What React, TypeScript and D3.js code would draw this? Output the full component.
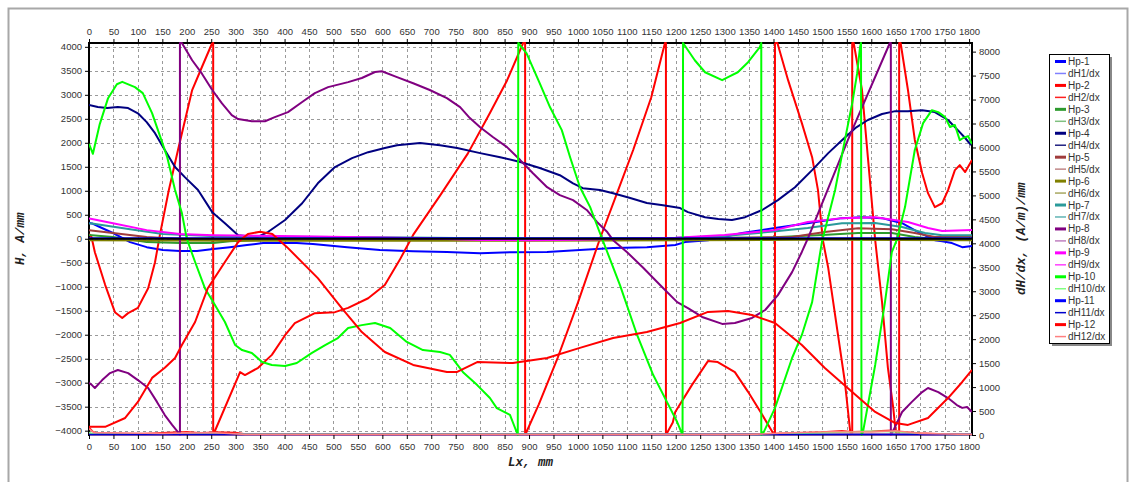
import React, { useRef, useEffect } from "react";
import * as d3 from "d3";

type Pt = [number, number];

// x positions in mm, H in A/mm (left axis), dH/dx in (A/m)/mm (right axis)
const hp1: Pt[] = [[0,330],[6,320],[22,245],[49,120],[84,-70],[118,-175],[151,-235],[186,-255],[221,-255],[254,-215],[288,-175],[323,-130],[356,-90],[391,-90],[425,-90],[458,-110],[528,-175],[595,-235],[663,-260],[732,-275],[800,-300],[867,-280],[937,-275],[1004,-235],[1072,-195],[1141,-175],[1199,-130],[1219,-70],[1266,-30],[1336,120],[1403,225],[1470,325],[1540,430],[1581,450],[1622,430],[1663,325],[1696,140],[1730,-30],[1745,-50],[1765,-90],[1786,-175],[1806,-150]];
const hp2: Pt[] = [[0,100],[5,40],[12,-280],[33,-960],[53,-1530],[68,-1650],[80,-1550],[100,-1440],[121,-1030],[135,-490],[145,80],[163,1000],[182,1850],[211,3100],[231,3580],[252,4080],[254,4080],[254,-4090],[309,-2780],[319,-2840],[346,-2690],[374,-2420],[401,-2010],[421,-1760],[462,-1550],[503,-1530],[530,-1440],[571,-1240],[605,-965],[635,-450],[663,80],[720,930],[775,1780],[820,2620],[855,3300],[888,4080],[892,4080],[892,-4090],[920,-3450],[959,-2470],[1000,-1330],[1045,0],[1080,950],[1113,1850],[1150,2950],[1178,4080],[1180,4080],[1180,-4090],[1194,-3830],[1199,-3610],[1233,-3050],[1266,-2550],[1286,-2570],[1321,-2780],[1348,-3190],[1377,-3670],[1399,-4050],[1403,-4090],[1403,4080],[1408,4080],[1430,3300],[1458,2410],[1479,1700],[1491,1015],[1501,-30],[1512,-610],[1532,-2010],[1546,-2985],[1557,-4030],[1561,-4090],[1561,4080],[1564,4080],[1581,3100],[1593,1700],[1608,-30],[1622,-1320],[1634,-2690],[1645,-3530],[1650,-4030],[1657,-4090],[1657,4080],[1660,4080],[1675,3100],[1689,2060],[1704,1370],[1716,950],[1730,660],[1745,740],[1757,1015],[1771,1430],[1781,1535],[1792,1390],[1806,1640]];
const hp3: Pt[] = [[0,80],[49,35],[118,-70],[186,-90],[254,-90],[288,-50],[350,-20],[500,-10],[800,0],[1200,10],[1400,30],[1500,80],[1573,120],[1642,120],[1689,35],[1730,-5],[1806,0]];
const hp4: Pt[] = [[0,2790],[18,2745],[37,2725],[59,2745],[80,2725],[100,2615],[118,2430],[135,2200],[155,1850],[176,1495],[196,1285],[223,1015],[252,555],[278,325],[305,75],[325,50],[345,40],[366,140],[401,390],[436,740],[468,1155],[503,1495],[538,1680],[571,1805],[605,1890],[630,1950],[677,1995],[718,1950],[753,1890],[800,1785],[841,1700],[882,1600],[922,1475],[963,1325],[990,1155],[1010,1055],[1045,1015],[1072,950],[1107,850],[1141,745],[1174,700],[1209,640],[1225,555],[1260,450],[1287,410],[1315,390],[1342,450],[1377,600],[1409,805],[1444,1075],[1479,1430],[1512,1785],[1540,2055],[1567,2305],[1593,2475],[1622,2600],[1649,2660],[1675,2660],[1704,2680],[1730,2640],[1757,2475],[1777,2265],[1792,2100],[1804,1950]];
const hp5: Pt[] = [[0,180],[49,120],[118,35],[186,-5],[254,-25],[400,-20],[600,-10],[800,0],[1000,0],[1200,10],[1350,20],[1438,35],[1505,140],[1573,220],[1642,200],[1689,120],[1730,35],[1806,55]];
const hp6: Pt[] = [[0,-30],[300,-40],[900,-40],[1500,-20],[1806,-30]];
const hp7: Pt[] = [[0,320],[6,320],[84,200],[151,100],[250,60],[400,40],[600,30],[800,10],[1000,0],[1200,20],[1300,60],[1400,150],[1470,225],[1540,325],[1608,330],[1663,245],[1710,120],[1745,75],[1806,75]];
const hp8: Pt[] = [[0,-3000],[6,-3050],[12,-3110],[27,-2945],[43,-2800],[59,-2735],[80,-2800],[100,-2945],[121,-3110],[139,-3400],[155,-3675],[170,-3880],[182,-4030],[186,-4090],[186,4080],[190,4080],[211,3720],[231,3440],[252,3100],[272,2820],[292,2575],[305,2495],[333,2450],[360,2450],[380,2535],[407,2640],[436,2850],[462,3035],[489,3160],[530,3265],[558,3350],[585,3475],[599,3490],[630,3370],[663,3240],[697,3100],[732,2930],[759,2745],[779,2515],[800,2325],[826,2120],[855,1910],[882,1640],[908,1365],[937,1075],[963,910],[990,805],[1018,600],[1039,350],[1060,140],[1072,-30],[1100,-275],[1134,-610],[1168,-965],[1203,-1320],[1225,-1445],[1254,-1630],[1295,-1775],[1321,-1755],[1356,-1650],[1383,-1485],[1409,-1175],[1438,-695],[1458,-275],[1470,0],[1552,2055],[1638,4080],[1640,4080],[1640,-4090],[1645,-4000],[1663,-3610],[1683,-3400],[1704,-3195],[1716,-3110],[1737,-3195],[1757,-3320],[1775,-3465],[1786,-3525],[1796,-3505],[1806,-3610]];
const hp9: Pt[] = [[0,420],[6,410],[49,325],[118,180],[186,100],[254,75],[391,55],[528,35],[663,15],[800,-25],[900,-30],[1000,-20],[1100,0],[1200,20],[1300,80],[1403,180],[1470,350],[1540,430],[1608,450],[1675,350],[1716,225],[1745,160],[1806,180]];
const hp10: Pt[] = [[0,1980],[8,1770],[22,2390],[39,2930],[57,3220],[68,3270],[94,3160],[110,3035],[129,2620],[141,2265],[160,1700],[176,1015],[190,535],[200,0],[217,-485],[237,-1030],[254,-1320],[278,-1735],[299,-2215],[313,-2320],[333,-2380],[354,-2570],[374,-2630],[401,-2650],[425,-2590],[456,-2380],[483,-2215],[509,-2070],[530,-1860],[558,-1800],[585,-1755],[616,-1860],[650,-2150],[683,-2320],[718,-2360],[738,-2420],[765,-2780],[794,-3050],[820,-3320],[834,-3530],[861,-3670],[877,-4090],[878,4080],[895,3865],[922,3240],[943,2740],[967,2265],[984,1700],[1004,1080],[1025,660],[1045,120],[1086,-965],[1121,-2005],[1154,-2840],[1182,-3400],[1203,-3820],[1214,-4090],[1215,4080],[1239,3720],[1260,3470],[1295,3305],[1307,3370],[1327,3470],[1348,3680],[1372,3995],[1375,4080],[1375,-4090],[1379,-4050],[1403,-3530],[1438,-2485],[1458,-2005],[1479,-1320],[1499,-70],[1526,1015],[1546,2055],[1561,2825],[1571,3440],[1577,3995],[1579,4080],[1580,-4090],[1583,-4030],[1608,-2630],[1628,-1320],[1642,-280],[1653,0],[1669,660],[1689,1850],[1706,2410],[1724,2680],[1737,2640],[1751,2535],[1761,2330],[1771,2370],[1781,2055],[1788,2100],[1798,2140],[1806,1975]];
const hp11: Pt[] = [[0,10],[1806,10]];
const hp12: Pt[] = [[0,-3920],[33,-3920],[74,-3735],[100,-3400],[129,-2900],[155,-2690],[176,-2485],[190,-2215],[217,-1735],[243,-1030],[278,-485],[305,-70],[325,100],[350,145],[375,100],[405,-175],[468,-820],[517,-1445],[558,-1945],[605,-2360],[663,-2630],[732,-2775],[753,-2775],[794,-2570],[867,-2590],[937,-2485],[1004,-2275],[1072,-2070],[1141,-1945],[1209,-1755],[1266,-1525],[1307,-1505],[1356,-1590],[1403,-1755],[1458,-2215],[1505,-2695],[1561,-3195],[1608,-3610],[1649,-3840],[1675,-3880],[1716,-3735],[1757,-3320],[1786,-2985],[1806,-2735]];

const dhZero: Pt[] = [[0,0],[1806,0]];
const dh2: Pt[] = [[0,150],[8,60],[20,20],[100,10],[160,40],[200,60],[230,30],[260,50],[300,40],[320,10],[400,0],[1300,0],[1400,20],[1450,30],[1500,50],[1540,80],[1560,60],[1600,70],[1640,90],[1660,60],[1700,30],[1750,10],[1806,0]];
const dh10: Pt[] = [[0,40],[10,10],[1400,0],[1450,20],[1520,40],[1600,70],[1660,50],[1700,20],[1750,0],[1806,0]];
const dh12: Pt[] = [[0,120],[10,40],[150,20],[250,40],[320,0],[1350,0],[1450,40],[1520,60],[1600,50],[1650,80],[1700,20],[1806,0]];

const seriesNames = ["Hp-1","dH1/dx","Hp-2","dH2/dx","Hp-3","dH3/dx","Hp-4","dH4/dx","Hp-5","dH5/dx","Hp-6","dH6/dx","Hp-7","dH7/dx","Hp-8","dH8/dx","Hp-9","dH9/dx","Hp-10","dH10/dx","Hp-11","dH11/dx","Hp-12","dH12/dx"];
const seriesColors = ["#0000ff","#8080ff","#ff0000","#ff2020","#2e9a2e","#80c080","#000080","#202080","#a03c3c","#c08888","#808000","#a8a860","#2a9a9a","#60b4b4","#800080","#c080c0","#ff00ff","#ff40ff","#00ff00","#80ff80","#0000ff","#0000cc","#ff0000","#ff8080"];
const seriesData = [hp1,dhZero,hp2,dh2,hp3,dhZero,hp4,dhZero,hp5,dhZero,hp6,dhZero,hp7,dhZero,hp8,dhZero,hp9,dhZero,hp10,dh10,hp11,dhZero,hp12,dh12];

const xTicks = d3.range(0, 1801, 50);
const leftTicks = d3.range(-4000, 4001, 500);
const rightTicks = d3.range(0, 8001, 500);

const W = 1135;
const H = 482;
const margin = { left: 89, top: 43, right: 972, bottom: 435 };

const App: React.FC = () => {
  const svgRef = useRef<SVGSVGElement>(null);

  useEffect(() => {
    if (!svgRef.current) return;
    const svg = d3.select(svgRef.current);
    svg.selectAll("*").remove();

    const x = d3.scaleLinear().domain([0, 1806]).range([margin.left, margin.right]);
    const yL = d3.scaleLinear().domain([-4090, 4080]).range([margin.bottom, margin.top]);
    const yR = d3.scaleLinear().domain([0, 8180]).range([margin.bottom, margin.top]);

    // outer panel
    svg.append("rect").attr("x", 8.5).attr("y", 8.5).attr("width", 1119).attr("height", 490)
      .attr("fill", "#fff").attr("stroke", "#a8a8a8").attr("stroke-width", 2);

    svg.append("defs").append("clipPath").attr("id", "plotClip")
      .append("rect").attr("x", margin.left).attr("y", margin.top - 1)
      .attr("width", margin.right - margin.left).attr("height", margin.bottom - margin.top + 2);

    // grid
    const grid = svg.append("g").attr("stroke", "#9a9a9a").attr("stroke-dasharray", "3,3").attr("stroke-width", 1);
    xTicks.filter((t) => t > 0).forEach((t) => {
      grid.append("line").attr("x1", Math.round(x(t)) + 0.5).attr("x2", Math.round(x(t)) + 0.5)
        .attr("y1", margin.top).attr("y2", margin.bottom);
    });
    leftTicks.forEach((t) => {
      grid.append("line").attr("x1", margin.left).attr("x2", margin.right)
        .attr("y1", Math.round(yL(t)) + 0.5).attr("y2", Math.round(yL(t)) + 0.5);
    });

    // border under the series, like the original
    svg.append("rect").attr("x", margin.left).attr("y", margin.top)
      .attr("width", margin.right - margin.left).attr("height", margin.bottom - margin.top)
      .attr("fill", "none").attr("stroke", "#000").attr("stroke-width", 2);

    // series
    const plot = svg.append("g").attr("clip-path", "url(#plotClip)");
    seriesNames.forEach((name, i) => {
      const isDH = name.startsWith("dH");
      const ys = isDH ? yR : yL;
      const line = d3.line<Pt>().x((d) => x(d[0])).y((d) => ys(d[1]) - (isDH ? 0.5 : 0));
      plot.append("path").datum(seriesData[i]).attr("d", line)
        .attr("fill", "none").attr("stroke", seriesColors[i])
        .attr("stroke-width", isDH ? 1.5 : 2).attr("stroke-linejoin", "round");
    });
    plot.append("line").attr("x1", margin.left).attr("x2", margin.right)
      .attr("y1", yL(0)).attr("y2", yL(0)).attr("stroke", "#000").attr("stroke-width", 2);

    const styleAxis = (g: d3.Selection<SVGGElement, unknown, null, undefined>) => {
      g.select(".domain").remove();
      g.selectAll(".tick line").attr("stroke", "#000");
      g.selectAll(".tick text").attr("fill", "#333").style("font-size", "9.5px")
        .style("font-family", "'Liberation Sans', Arial, sans-serif");
    };

    svg.append("g").attr("transform", `translate(0,${margin.top})`)
      .call(d3.axisTop(x).tickValues(xTicks).tickSize(4).tickPadding(4).tickFormat(d3.format("d")))
      .call(styleAxis);
    svg.append("g").attr("transform", `translate(0,${margin.bottom})`)
      .call(d3.axisBottom(x).tickValues(xTicks).tickSize(4).tickPadding(4).tickFormat(d3.format("d")))
      .call(styleAxis);
    svg.append("g").attr("transform", `translate(${margin.left},0)`)
      .call(d3.axisLeft(yL).tickValues(leftTicks).tickSize(4).tickPadding(3).tickFormat(d3.format("d")))
      .call(styleAxis);
    svg.append("g").attr("transform", `translate(${margin.right},0)`)
      .call(d3.axisRight(yR).tickValues(rightTicks).tickSize(4).tickPadding(3).tickFormat(d3.format("d")))
      .call(styleAxis);

    // axis titles
    const titleFont = (t: d3.Selection<SVGTextElement, unknown, null, undefined>) =>
      t.attr("font-family", "'Liberation Mono', 'Courier New', monospace").attr("font-style", "italic")
        .attr("font-weight", "bold").attr("font-size", 12.5).attr("fill", "#222").attr("text-anchor", "middle");
    svg.append("text").attr("transform", `translate(24,${yL(0)}) rotate(-90)`).text("H, A/mm").call(titleFont);
    svg.append("text").attr("transform", `translate(1025,${yL(0)}) rotate(-90)`).text("dH/dx, (A/m)/mm").call(titleFont);
    svg.append("text").attr("x", (margin.left + margin.right) / 2).attr("y", 466).text("Lx, mm").call(titleFont);

    // legend
    const lg = svg.append("g");
    lg.append("rect").attr("x", 1052).attr("y", 57).attr("width", 60).attr("height", 289).attr("fill", "#888");
    lg.append("rect").attr("x", 1049.5).attr("y", 54.5).attr("width", 60).attr("height", 289)
      .attr("fill", "#fff").attr("stroke", "#000").attr("stroke-width", 1);
    seriesNames.forEach((name, i) => {
      const cy = 61.5 + i * 11.96;
      const isDH = name.startsWith("dH");
      lg.append("line").attr("x1", 1055).attr("x2", 1066).attr("y1", cy).attr("y2", cy)
        .attr("stroke", seriesColors[i]).attr("stroke-width", isDH ? 1.5 : 3);
      lg.append("text").attr("x", 1068).attr("y", cy).attr("dy", "0.35em").text(name)
        .attr("font-family", "'Liberation Sans', Arial, sans-serif").attr("font-size", 10).attr("fill", "#333");
    });
  }, []);

  return (
    <svg ref={svgRef} width={W} height={H} style={{ position: "absolute", left: 0, top: 0, background: "#fff" }} />
  );
};

export default App;
